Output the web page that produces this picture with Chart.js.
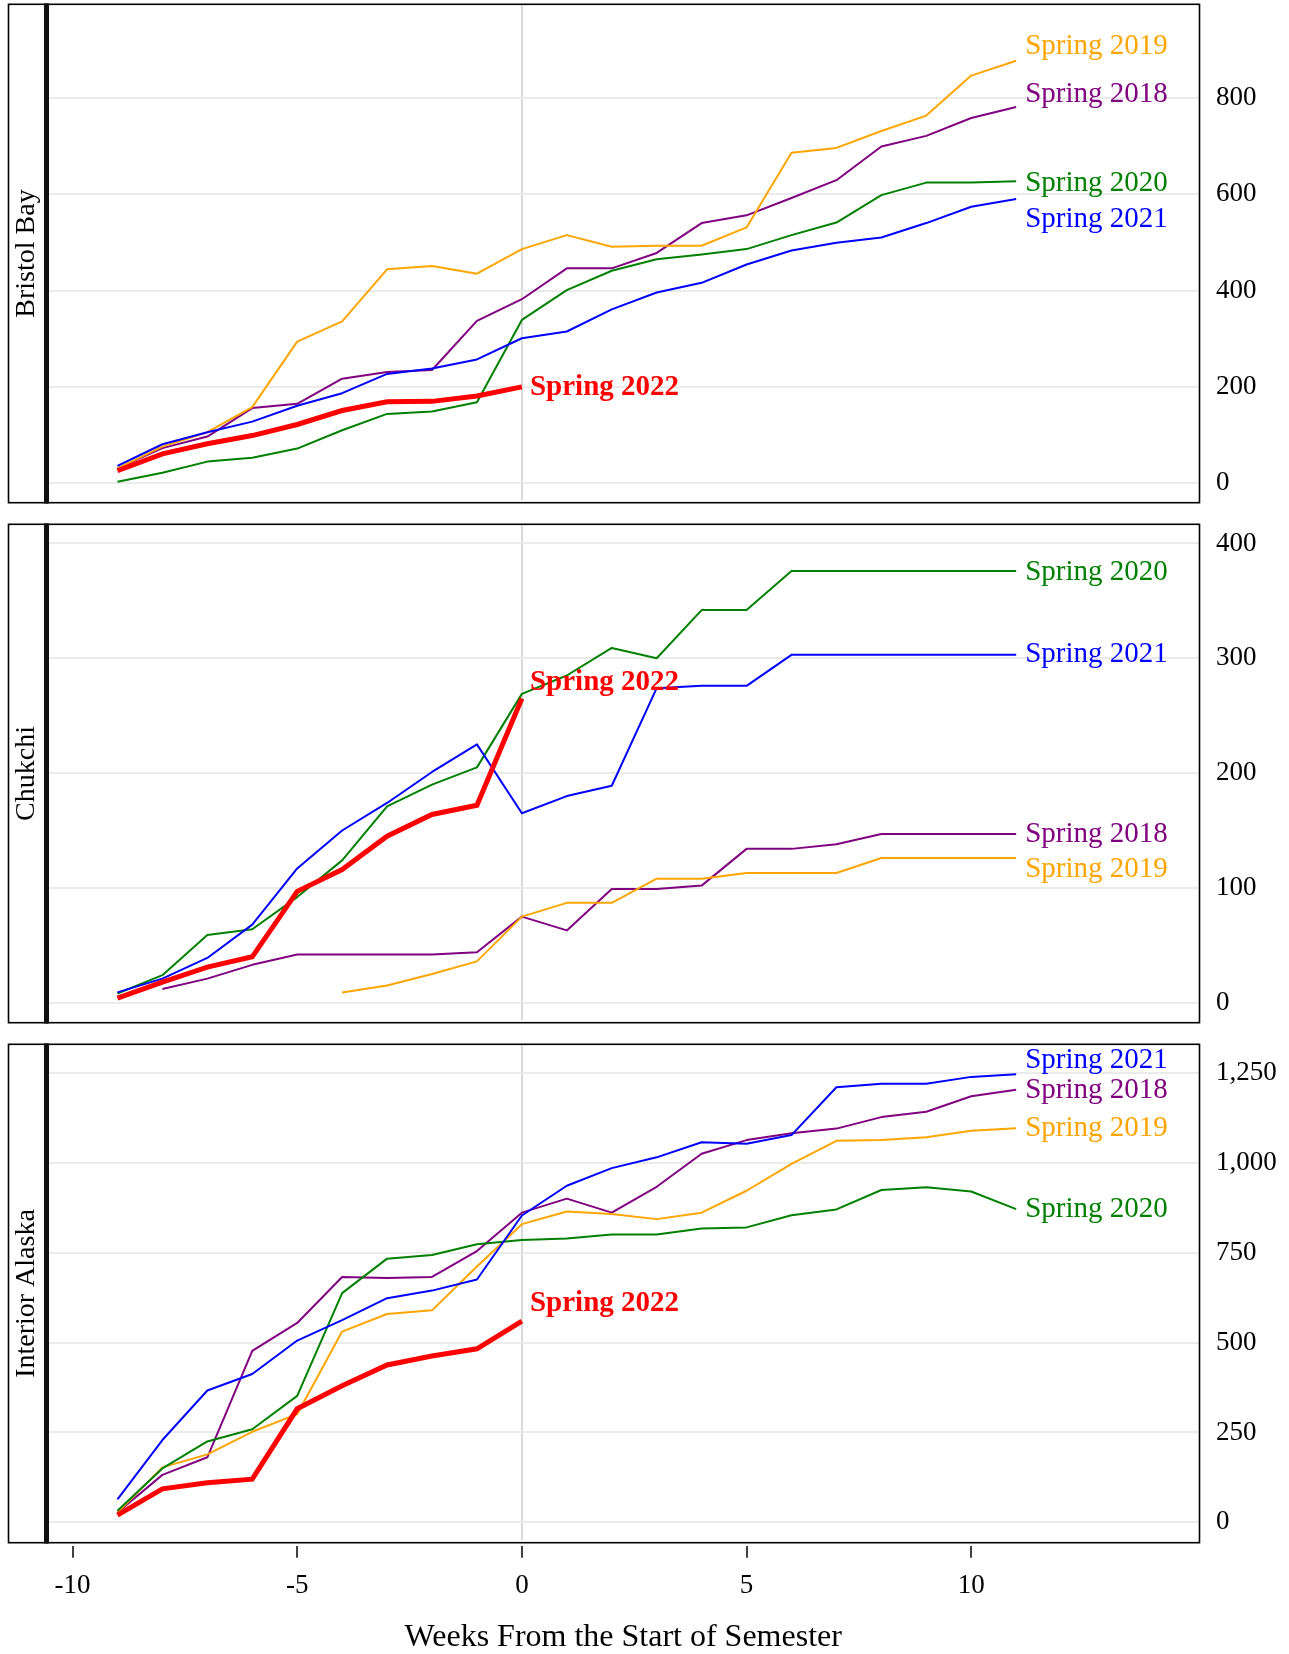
<!DOCTYPE html>
<html>
<head>
<meta charset="utf-8">
<script src="https://cdn.jsdelivr.net/npm/chart.js@4.4.1/dist/chart.umd.min.js"></script>
<style>
  html, body { margin: 0; padding: 0; background: #fff; }
  body { width: 1289px; height: 1654px; position: relative; overflow: hidden; }
  canvas { position: absolute; left: 0; }
</style>
</head>
<body>
<canvas id="c1" width="1289" height="510" style="top:0px"></canvas>
<canvas id="c2" width="1289" height="510" style="top:520px"></canvas>
<canvas id="c3" width="1289" height="614" style="top:1040px"></canvas>
<script>
// ---------------- DATA ----------------
const weeks = [-9,-8,-7,-6,-5,-4,-3,-2,-1,0,1,2,3,4,5,6,7,8,9,10,11];
const weeks2022 = [-9,-8,-7,-6,-5,-4,-3,-2,-1,0];
const seriesNames = ['Spring 2018','Spring 2019','Spring 2020','Spring 2021','Spring 2022'];
const xTicks = [-10,-5,0,5,10];
const xTitle = 'Weeks From the Start of Semester';

// Bristol Bay
const bb2018 = [31,73,97,156,165,217,231,235,337,382,446,446,478,540,556,592,629,699,721,758,781];
const bb2019 = [31,76,106,158,294,336,444,451,435,486,515,491,493,493,531,686,696,731,763,846,877];
const bb2020 = [3,22,45,53,72,110,144,149,168,339,401,441,465,475,486,515,541,598,624,624,627];
const bb2021 = [36,81,106,128,161,187,227,238,257,301,315,361,396,416,454,483,499,510,540,574,590];
const bb2022 = [26,61,82,99,122,151,169,170,181,200];
const bbTicks = [0,200,400,600,800];
const bbLabelY = [808,907,622,548,198];

// Chukchi
const ch2018 = [null,12,21,33,42,42,42,42,44,75,63,99,99,102,134,134,138,147,147,147,147];
const ch2019 = [null,null,null,null,null,9,15,25,36,75,87,87,108,108,113,113,113,126,126,126,126];
const ch2020 = [8,24,59,64,92,124,171,190,205,269,285,309,300,342,342,376,376,376,376,376,376];
const ch2021 = [9,21,39,68,117,150,174,201,225,165,180,189,274,276,276,303,303,303,303,303,303];
const ch2022 = [4,18,31,40,97,116,145,164,172,265];
const chTicks = [0,100,200,300,400];
const chLabelY = [147,116,375,303,279];

// Interior Alaska
const ia2018 = [27,132,181,477,555,683,680,683,755,862,901,862,934,1026,1064,1083,1096,1128,1143,1186,1204];
const ia2019 = [27,153,189,252,301,531,580,590,712,830,865,858,844,862,923,998,1062,1064,1072,1090,1097];
const ia2020 = [32,150,225,259,352,638,734,744,774,786,790,801,801,818,821,855,871,925,933,921,872];
const ia2021 = [64,229,367,413,506,563,624,645,676,854,937,986,1016,1058,1054,1078,1211,1221,1221,1240,1247];
const ia2022 = [20,93,110,120,316,380,438,463,483,560];
const iaTicks = [0,250,500,750,1000,1250];
const iaLabelY = [1201,1096,870,1287,608];

const labelXOld = 11.2;
const labelX2022 = 0.18;

// ---------------- STYLE ----------------
const FONT = "'Liberation Serif', 'DejaVu Serif', serif";
const colors = ['#800080','#FFA500','#008000','#0000FF','#FF0000'];

function pts(xs, ys) {
  const out = [];
  for (let i = 0; i < xs.length; i++) if (ys[i] !== null && ys[i] !== undefined) out.push({x: xs[i], y: ys[i]});
  return out;
}

function buildDatasets(s18, s19, s20, s21, s22) {
  const list = [
    {data: pts(weeks2022, s22), idx: 4, w: 5},
    {data: pts(weeks, s21), idx: 3, w: 2},
    {data: pts(weeks, s20), idx: 2, w: 2},
    {data: pts(weeks, s19), idx: 1, w: 2},
    {data: pts(weeks, s18), idx: 0, w: 2}
  ];
  return list.map(d => ({
    label: seriesNames[d.idx],
    data: d.data,
    borderColor: colors[d.idx],
    backgroundColor: colors[d.idx],
    borderWidth: d.w,
    pointRadius: 0,
    pointHoverRadius: 0,
    tension: 0,
    fill: false,
    borderJoinStyle: d.idx === 4 ? 'miter' : 'round',
    borderCapStyle: 'butt'
  }));
}

const framePlugin = {
  id: 'frame',
  afterDraw(chart, args, opts) {
    const {ctx, chartArea: a} = chart;
    const xs = chart.scales.x, ys = chart.scales.y;
    ctx.save();
    // series labels
    for (let i = 0; i < 5; i++) {
      const lx = i === 4 ? labelX2022 : labelXOld;
      ctx.font = (i === 4 ? 'bold ' : '') + '29px ' + FONT;
      ctx.fillStyle = colors[i];
      ctx.textAlign = 'left';
      ctx.textBaseline = 'middle';
      ctx.fillText(seriesNames[i], xs.getPixelForValue(lx), ys.getPixelForValue(opts.labelY[i]));
    }
    // panel border
    ctx.strokeStyle = '#000';
    ctx.lineWidth = 1.6;
    ctx.strokeRect(a.left, a.top, a.right - a.left, a.bottom - a.top);
    // strip
    ctx.strokeRect(8.5, a.top, a.left - 8.5, a.bottom - a.top);
    ctx.fillStyle = '#111';
    ctx.fillRect(a.left - 3, a.top - 0.8, 5, a.bottom - a.top + 1.6);
    ctx.translate((8.5 + a.left - 3) / 2, (a.top + a.bottom) / 2);
    ctx.rotate(-Math.PI / 2);
    ctx.font = '28px ' + FONT;
    ctx.fillStyle = '#000';
    ctx.textAlign = 'center';
    ctx.textBaseline = 'middle';
    ctx.fillText(opts.strip, 0, 0);
    ctx.restore();
  }
};

function makeChart(id, cfg) {
  const el = document.getElementById(id);
  return new Chart(el, {
    type: 'line',
    data: {datasets: cfg.datasets},
    options: {
      responsive: false,
      animation: false,
      devicePixelRatio: 1,
      events: [],
      layout: {padding: {left: 47, right: 0, top: 4.3, bottom: cfg.bottomPad}},
      plugins: {
        legend: {display: false},
        tooltip: {enabled: false},
        frame: {labelY: cfg.labelY, strip: cfg.strip}
      },
      scales: {
        x: {
          type: 'linear',
          position: 'bottom',
          min: -10.568,
          max: 15.08,
          afterBuildTicks: s => { s.ticks = xTicks.map(v => ({value: v})); },
          afterFit: s => { s.height = cfg.xHeight; s.paddingLeft = 0; s.paddingRight = 0; },
          grid: {
            color: c => (c.tick && c.tick.value === 0) ? '#d9d9d9' : 'rgba(0,0,0,0)',
            lineWidth: 2,
            drawTicks: cfg.showX,
            tickLength: 15,
            tickColor: '#000',
            tickWidth: 1.5
          },
          border: {display: true, width: 6, color: 'rgba(0,0,0,0)'},
          ticks: {
            display: cfg.showX,
            padding: 11.7,
            color: '#000',
            font: {family: FONT, size: 27, lineHeight: 1.2},
            maxRotation: 0,
            autoSkip: false,
            callback: v => String(v)
          },
          title: {
            display: cfg.showX,
            text: xTitle,
            color: '#000',
            font: {family: FONT, size: 32, lineHeight: 1},
            padding: {top: 0, bottom: 0}
          }
        },
        y: {
          type: 'linear',
          position: 'right',
          min: cfg.yMin,
          max: cfg.yMax,
          afterBuildTicks: s => { s.ticks = cfg.yTicks.map(v => ({value: v})); },
          afterFit: s => { s.width = 89.5; s.paddingTop = 0; s.paddingBottom = 0; },
          grid: {color: '#ebebeb', lineWidth: 2, drawTicks: false},
          border: {display: false},
          ticks: {
            padding: 16.5,
            color: '#000',
            autoSkip: false,
            font: {family: FONT, size: 27},
            callback: v => Number(v).toLocaleString('en-US')
          }
        }
      }
    },
    plugins: [framePlugin]
  });
}

makeChart('c1', {
  datasets: buildDatasets(bb2018, bb2019, bb2020, bb2021, bb2022),
  yMin: -40.3, yMax: 994, yTicks: bbTicks, labelY: bbLabelY, strip: 'Bristol Bay',
  showX: false, xHeight: 0, bottomPad: 7.3
});
makeChart('c2', {
  datasets: buildDatasets(ch2018, ch2019, ch2020, ch2021, ch2022),
  yMin: -17.4, yMax: 416.7, yTicks: chTicks, labelY: chLabelY, strip: 'Chukchi',
  showX: false, xHeight: 0, bottomPad: 7.3
});
makeChart('c3', {
  datasets: buildDatasets(ia2018, ia2019, ia2020, ia2021, ia2022),
  yMin: -56.8, yMax: 1330.7, yTicks: iaTicks, labelY: iaLabelY, strip: 'Interior Alaska',
  showX: true, xHeight: 111.3, bottomPad: 0
});
</script>
</body>
</html>
